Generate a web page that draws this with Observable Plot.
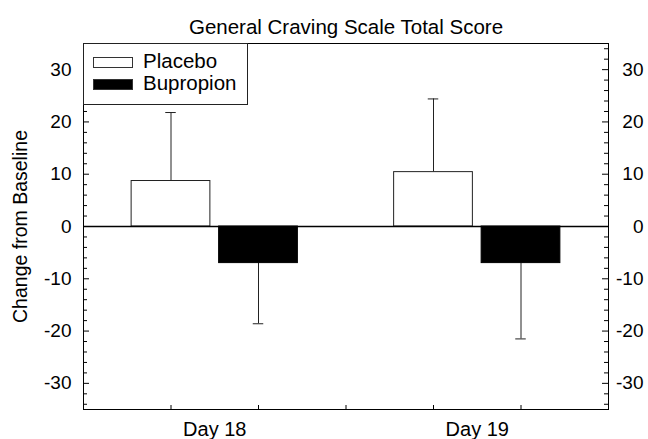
<!DOCTYPE html>
<html><head><meta charset="utf-8">
<script src="https://cdn.jsdelivr.net/npm/d3@7"></script>
<script src="https://cdn.jsdelivr.net/npm/@observablehq/plot@0.6"></script>
<style>
body{margin:0;background:#fff;font-family:"Liberation Sans",Arial,sans-serif;}
#wrap{position:relative;width:648px;height:439px;overflow:hidden;}
#wrap svg{position:absolute;left:0;top:0;}
.lg{position:absolute;box-sizing:border-box;}
.lt{position:absolute;font-size:20.5px;line-height:20px;white-space:nowrap;color:#000;}
</style></head>
<body><div id="wrap"></div>
<script>
const title = "General Craving Scale Total Score";
const yLabel = "Change from Baseline";
const days = ["Day 18", "Day 19"];
const seriesNames = ["Placebo", "Bupropion"];
const placeboMean = [8.7, 10.4];
const placeboSD = [13.1, 14.0];
const bupropionMean = [-7.0, -7.0];
const bupropionSD = [11.6, 14.5];
const yMajor = [-30, -20, -10, 0, 10, 20, 30];
const yMinor = d3.range(-34, 35, 2).filter(v => v % 10 !== 0);

const W = 648, H = 439, mL = 83, mR = 40, mT = 43, mB = 30;
const fw = W - mL - mR, fh = H - mT - mB;

const rows = [];
days.forEach((d, i) => {
  [[placeboMean, placeboSD], [bupropionMean, bupropionSD]].forEach(([m, s], j) => {
    const mean = m[i], sd = s[i];
    rows.push({day: d, series: seriesNames[j], c: 1 + 3 * i + j, mean, end: mean + Math.sign(mean) * sd});
  });
});
const dayCenters = days.map((d, i) => 1.5 + 3 * i);
const bottomTicks = [1, 2, 3, 4, 5];
const fmt = d => String(d);

const chart = Plot.plot({
  width: W, height: H,
  marginLeft: mL, marginRight: mR, marginTop: mT, marginBottom: mB,
  style: {fontFamily: '"Liberation Sans", Arial, sans-serif', color: "#000", background: "transparent"},
  x: {domain: [0, 6]},
  y: {domain: [-35, 35]},
  marks: [
    Plot.ruleX(rows, {x: "c", y1: "mean", y2: "end", stroke: "#222", strokeWidth: 1}),
    Plot.ruleY(rows, {y: "end", x1: d => d.c - 0.06, x2: d => d.c + 0.06, stroke: "#222", strokeWidth: 1}),
    Plot.rect(rows.filter(r => r.series === seriesNames[0]), {x1: d => d.c - 0.45, x2: d => d.c + 0.45, y1: 0, y2: "mean", fill: "white", stroke: "#222", strokeWidth: 1}),
    Plot.rect(rows.filter(r => r.series === seriesNames[1]), {x1: d => d.c - 0.45, x2: d => d.c + 0.45, y1: 0, y2: "mean", fill: "black", stroke: "black", strokeWidth: 1}),
    Plot.ruleY([0], {stroke: "#000", strokeWidth: 1.3}),
    Plot.tickY(yMajor, {y: d => d, insetRight: fw - 6, stroke: "#000"}),
    Plot.tickY(yMinor, {y: d => d, insetRight: fw - 4, stroke: "#000"}),
    Plot.tickY(yMajor, {y: d => d, insetLeft: fw - 6, stroke: "#000"}),
    Plot.tickY(yMinor, {y: d => d, insetLeft: fw - 4, stroke: "#000"}),
    Plot.tickX(bottomTicks, {x: d => d, insetTop: fh - 4, stroke: "#000"}),
    Plot.frame({stroke: "#000", strokeWidth: 1}),
    Plot.axisY({ticks: yMajor, anchor: "left", tickSize: 0, tickPadding: 12, fontSize: 19, label: null, tickFormat: fmt}),
    Plot.text(yMajor, {y: d => d, text: fmt, frameAnchor: "right", dx: 35, textAnchor: "end", fontSize: 19}),
    Plot.axisX({ticks: dayCenters, anchor: "bottom", tickSize: 0, tickPadding: 12, fontSize: 20, label: null,
      tickFormat: d => days[dayCenters.indexOf(d)]}),
    Plot.text([title], {frameAnchor: "top", dy: -10, lineAnchor: "bottom", textAnchor: "middle", fontSize: 20.5}),
    Plot.text([yLabel], {frameAnchor: "left", dx: -63, rotate: -90, textAnchor: "middle", lineAnchor: "middle", fontSize: 19.5})
  ]
});
const wrap = document.getElementById("wrap");
wrap.appendChild(chart);

// legend overlay
const seriesFill = ["white", "black"];
const box = document.createElement("div");
box.className = "lg";
Object.assign(box.style, {left: mL + "px", top: mT + "px", width: "165px", height: "62px", border: "1px solid #222", background: "#fff"});
wrap.appendChild(box);
seriesNames.forEach((name, j) => {
  const sw = document.createElement("div");
  sw.className = "lg";
  Object.assign(sw.style, {left: "93px", top: (57 + j * 22) + "px", width: "40px", height: "11px",
    background: seriesFill[j], border: "1px solid #333"});
  wrap.appendChild(sw);
  const t = document.createElement("div");
  t.className = "lt";
  t.textContent = name;
  Object.assign(t.style, {left: "143px", top: (51 + j * 22.3) + "px"});
  wrap.appendChild(t);
});
</script>
</body></html>
